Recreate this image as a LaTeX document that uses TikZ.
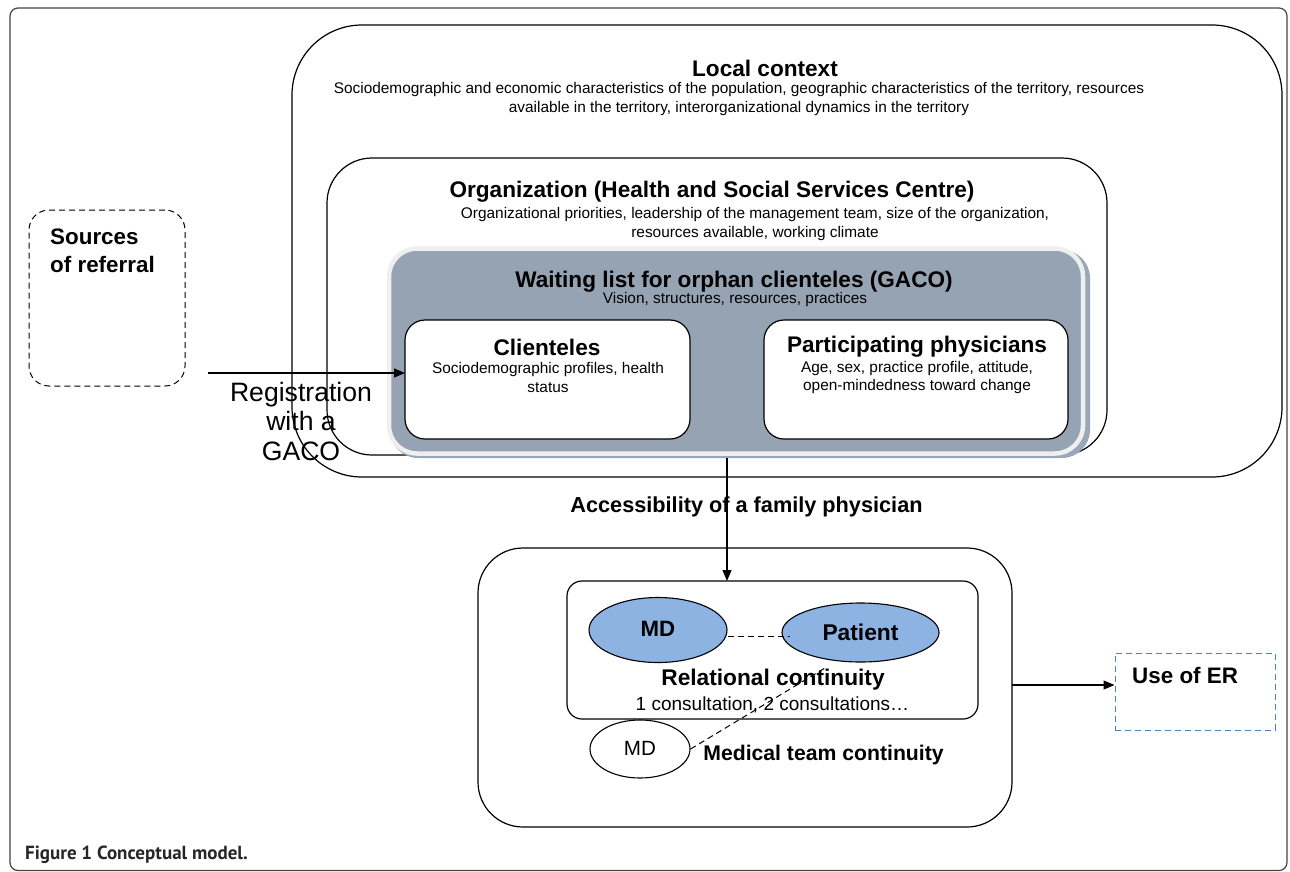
\documentclass[tikz,border=0pt]{standalone}
\usepackage{fontspec}
\setmainfont{Liberation Sans}
\newfontfamily\capfont{PT Sans}
\usetikzlibrary{arrows.meta,shapes.geometric}
\definecolor{gacofill}{HTML}{96A3B3}
\definecolor{gacoedge}{HTML}{EFEFEF}
\definecolor{gacoshadow}{HTML}{9AA7B8}
\definecolor{ellfill}{HTML}{8DB3E2}
\definecolor{erblue}{HTML}{4F81BD}
\definecolor{framegray}{HTML}{444444}
\newcommand\myTitleFont{\fontsize{22.6}{26}\selectfont\bfseries}
\newcommand\mySubFont{\fontsize{15.4}{18.5}\selectfont}
\begin{document}
\begin{tikzpicture}[x=1pt,y=-1pt,
  box/.style={draw, line width=1.2pt, inner sep=0pt, outer sep=0pt},
  ttl/.style={inner sep=0pt, font=\myTitleFont},
  sub/.style={inner sep=0pt, align=center, font=\mySubFont},
  conn/.style={line width=1.2pt, -{Triangle[length=11pt,width=9pt]}},
  dsh/.style={line width=1pt, dash pattern=on 6pt off 4pt}]
\useasboundingbox (0,0) rectangle (1290,871);
% outer frame
\draw[framegray, line width=1.2pt, rounded corners=8pt] (10,8) rectangle (1287,870.5);

% local context
\node[box, rounded corners=70pt, minimum width=990pt, minimum height=452pt] (local) at (787,251) {};
\node[ttl] (localT) at (765,68) {Local context};
\node[sub] (localS) at (739,99) {Sociodemographic and economic characteristics of the population, geographic characteristics of the territory, resources\\available in the territory, interorganizational dynamics in the territory};

% organization
\node[box, rounded corners=45pt, minimum width=780pt, minimum height=297pt] (org) at (717,306.5) {};
\node[ttl] (orgT) at (712,192) {Organization (Health and Social Services Centre)};
\node[sub, font=\fontsize{15.4}{19}\selectfont] (orgS) at (755,224.5) {Organizational priorities, leadership of the management team, size of the organization,\\resources available, working climate};

% GACO
\node[fill=gacoshadow, rounded corners=28pt, minimum width=700pt, minimum height=208pt, inner sep=0pt] (gacoSh) at (740,354) {};
\node[fill=gacofill, draw=gacoedge, line width=4.5pt, rounded corners=28pt, minimum width=694pt, minimum height=205pt, inner sep=0pt] (gaco) at (736,351) {};
\node[ttl] (gacoT) at (734,282) {Waiting list for orphan clienteles (GACO)};
\node[sub] (gacoS) at (735,300) {Vision, structures, resources, practices};

\node[box, fill=white, rounded corners=20pt, minimum width=285pt, minimum height=119pt] (cli) at (547.5,379.5) {};
\node[ttl] (cliT) at (547,347) {Clienteles};
\node[sub] (cliS) at (548,377.5) {Sociodemographic profiles, health\\status};

\node[box, fill=white, rounded corners=20pt, minimum width=304pt, minimum height=119pt] (phy) at (916,379.5) {};
\node[ttl] (phyT) at (917,347) {Participating physicians};
\node[sub] (phyS) at (917,377.5) {Age, sex, practice profile, attitude,\\open-mindedness toward change};

% sources of referral
\node[box, dsh, rounded corners=20pt, minimum width=156pt, minimum height=176pt] (src) at (107,298) {};
\node[inner sep=0pt, anchor=west, align=left, font=\fontsize{22.4}{28}\selectfont\bfseries] (srcT) at (50,251) {Sources\\of referral};

% registration arrow
\coordinate (regStart) at (208,373);
\draw[conn] (regStart) -- (regStart -| cli.west);
\node[inner sep=0pt, align=center, font=\fontsize{26.6}{29.5}\selectfont] (regT) at (301,421) {Registration\\with a\\GACO};

% accessibility arrow
\node[box, rounded corners=45pt, minimum width=534pt, minimum height=279pt] (bot) at (745,687.5) {};
\node[box, rounded corners=15pt, minimum width=411pt, minimum height=138pt] (rel) at (772.5,650) {};
\coordinate (accStart) at (727,458);
\draw[conn] (accStart) -- (accStart |- rel.north);
\node[inner sep=0pt, font=\fontsize{21.7}{25}\selectfont\bfseries] (accT) at (746.5,507) {Accessibility of a family physician};

% ellipses
\node[ellipse, draw, line width=1.1pt, fill=ellfill, minimum width=138pt, minimum height=65pt, inner sep=0pt, font=\fontsize{22.2}{25}\selectfont\bfseries] (md) at (658,630) {\raisebox{3pt}{MD}};
\node[ellipse, draw, line width=1.1pt, fill=ellfill, minimum width=157pt, minimum height=59pt, inner sep=0pt, font=\fontsize{22.8}{25}\selectfont\bfseries] (pat) at (860.5,632.5) {Patient};
\draw[dsh] ([yshift=-6pt]md.east) -- ([xshift=9pt,yshift=-3.5pt]pat.west);
\node[inner sep=0pt, font=\fontsize{22.7}{25}\selectfont\bfseries] (relT) at (773,680) {Relational continuity};
\node[inner sep=0pt, font=\fontsize{19}{22}\selectfont] (relS) at (772.5,705) {1 consultation, 2 consultations…};

\node[ellipse, draw, line width=1.1pt, fill=white, minimum width=100pt, minimum height=58pt, inner sep=0pt, font=\fontsize{20.6}{24}\selectfont] (mds) at (640,749) {\raisebox{2pt}{MD}};
\coordinate (teamEnd) at (825,668);
\draw[dsh] (mds.east) -- (teamEnd);
\node[inner sep=0pt, font=\fontsize{21.2}{25}\selectfont\bfseries] (teamT) at (823.5,755) {Medical team continuity};

% use of ER
\node[draw=erblue, dsh, minimum width=160pt, minimum height=77pt, inner sep=0pt] (er) at (1195,691.5) {};
\node[inner sep=0pt, anchor=west, font=\fontsize{22.4}{25}\selectfont\bfseries] (erT) at (1132,675) {Use of ER};
\coordinate (erStart) at (1012,685);
\draw[conn] (erStart) -- (erStart -| er.west);

% caption
\node[inner sep=0pt, anchor=west, text=black!85, font=\capfont\fontsize{19}{22}\selectfont\bfseries] (cap) at (25,855) {Figure 1 Conceptual model.};
\end{tikzpicture}
\end{document}
